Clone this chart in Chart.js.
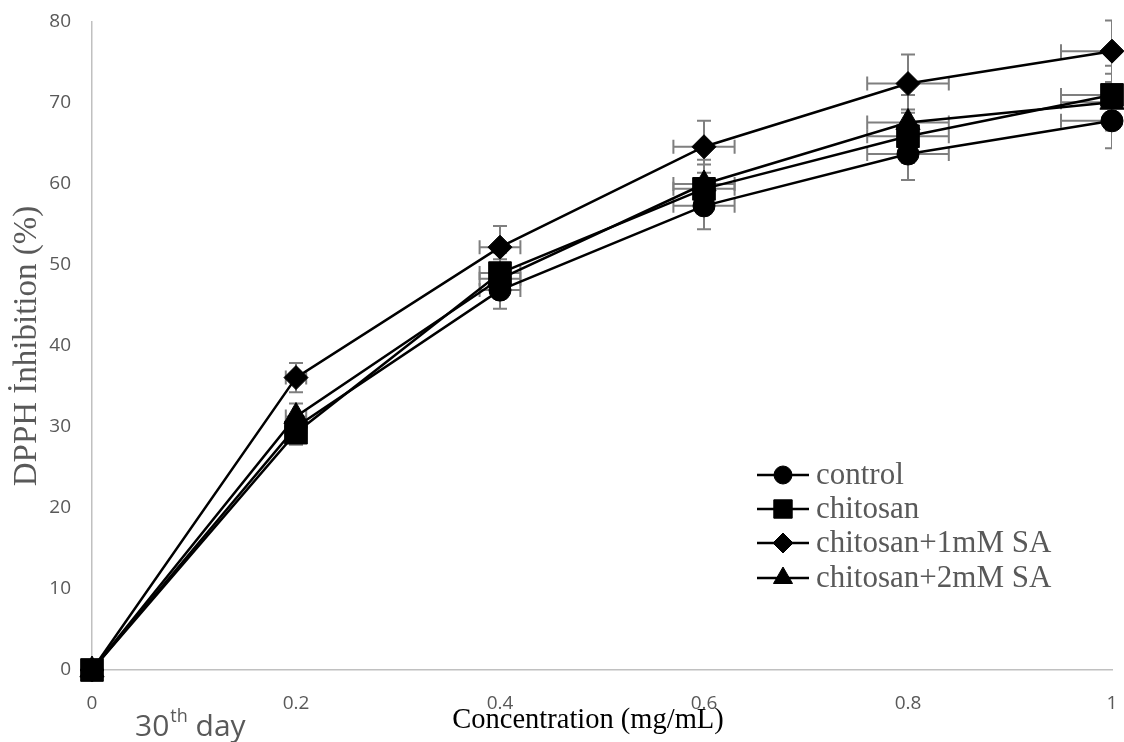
<!DOCTYPE html>
<html>
<head>
<meta charset="utf-8">
<script src="https://cdn.jsdelivr.net/npm/chart.js@4.4.1/dist/chart.umd.min.js"></script>
<style>
  html, body { margin: 0; padding: 0; background: #fff; overflow: hidden; }
  #cont { width: 1124px; height: 742px; position: relative; }
  #grafica { display: block; }
</style>
</head>
<body>
<div id="cont"><canvas id="grafica"></canvas></div>
<script>
// Datos
const concentraciones = [0, 0.2, 0.4, 0.6, 0.8, 1];
const control = [0, 30.0, 46.9, 57.3, 63.7, 67.8];
const chitosan = [0, 29.3, 49.0, 59.4, 65.9, 71.0];
const sa1mM = [0, 36.1, 52.2, 64.6, 72.4, 76.4];
const sa2mM = [0, 31.3, 48.3, 60.0, 67.6, 70.1];

const errControl = [0, 1.5, 2.3, 2.9, 3.2, 3.4];
const errChitosan = [0, 1.5, 2.5, 3.0, 3.3, 3.6];
const errSa1 = [0, 1.8, 2.6, 3.2, 3.6, 3.8];
const errSa2 = [0, 1.6, 2.4, 3.0, 3.4, 3.5];
const errX = [0, 0.01, 0.02, 0.03, 0.04, 0.05];

const etiquetasX = ['0', '0.2', '0.4', '0.6', '0.8', '1'];
const ticksY = [0, 10, 20, 30, 40, 50, 60, 70, 80];
const nombres = ['control', 'chitosan', 'chitosan+1mM SA', 'chitosan+2mM SA'];

const series = [control, chitosan, sa1mM, sa2mM];
const errores = [errControl, errChitosan, errSa1, errSa2];
const estilos = ['circle', 'rect', 'rectRot', 'triangle'];
const radios = [11, 16, 12, 14];
const radiosLeyenda = [9, 13, 10, 11];

const gris = '#595959';

// Barras de error (verticales y horizontales)
const barrasError = {
  id: 'barrasError',
  beforeDatasetsDraw(chart) {
    const ctx = chart.ctx;
    const sx = chart.scales.x;
    const sy = chart.scales.y;
    const a = chart.chartArea;
    const cap = 7;
    ctx.save();
    ctx.beginPath();
    ctx.rect(a.left, a.top - 4, a.right - a.left, a.bottom - a.top + 4);
    ctx.clip();
    ctx.strokeStyle = '#7f7f7f';
    ctx.lineWidth = 2;
    series.forEach((serie, i) => {
      serie.forEach((v, j) => {
        const cx = sx.getPixelForValue(concentraciones[j]);
        const cy = sy.getPixelForValue(v);
        const ey = errores[i][j];
        const ex = errX[j];
        ctx.beginPath();
        if (ey > 0) {
          const y1 = sy.getPixelForValue(v + ey);
          const y2 = sy.getPixelForValue(v - ey);
          ctx.moveTo(cx, y1); ctx.lineTo(cx, y2);
          ctx.moveTo(cx - cap, y1); ctx.lineTo(cx + cap, y1);
          ctx.moveTo(cx - cap, y2); ctx.lineTo(cx + cap, y2);
        }
        if (ex > 0) {
          const x1 = sx.getPixelForValue(concentraciones[j] - ex);
          const x2 = sx.getPixelForValue(concentraciones[j] + ex);
          ctx.moveTo(x1, cy); ctx.lineTo(x2, cy);
          ctx.moveTo(x1, cy - cap); ctx.lineTo(x1, cy + cap);
          ctx.moveTo(x2, cy - cap); ctx.lineTo(x2, cy + cap);
        }
        ctx.stroke();
      });
    });
    ctx.restore();
  }
};

// Leyenda y textos extra
const extras = {
  id: 'extras',
  afterDraw(chart) {
    const ctx = chart.ctx;
    ctx.save();

    // Leyenda dentro del area
    const filas = [475, 509, 543, 578];
    nombres.forEach((nombre, i) => {
      const y = filas[i];
      ctx.strokeStyle = '#000';
      ctx.lineWidth = 2.5;
      ctx.beginPath();
      ctx.moveTo(757, y);
      ctx.lineTo(809, y);
      ctx.stroke();
      ctx.fillStyle = '#000';
      ctx.lineWidth = 1;
      Chart.helpers.drawPoint(ctx, { pointStyle: estilos[i], radius: radiosLeyenda[i], rotation: 0, borderWidth: 1 }, 783, y);
      ctx.fillStyle = gris;
      ctx.font = '31px "Liberation Serif"';
      ctx.textBaseline = 'middle';
      ctx.textAlign = 'left';
      ctx.fillText(nombre, 816, y + 1);
    });

    // Titulo del eje x
    ctx.fillStyle = '#000';
    ctx.font = '28.5px "Liberation Serif"';
    ctx.textAlign = 'center';
    ctx.textBaseline = 'middle';
    ctx.fillText('Concentration (mg/mL)', 588, 721);

    // Texto "30th day"
    ctx.fillStyle = gris;
    ctx.textAlign = 'left';
    ctx.textBaseline = 'alphabetic';
    ctx.font = '30px "Open Sans"';
    let x = 135;
    ctx.fillText('30', x, 736);
    x += ctx.measureText('30').width + 1;
    ctx.font = '18px "Open Sans"';
    ctx.fillText('th', x, 722);
    x += ctx.measureText('th').width;
    ctx.font = '30px "Open Sans"';
    ctx.fillText(' day', x, 736);

    ctx.restore();
  }
};

const datasets = series.map((serie, i) => ({
  label: nombres[i],
  data: serie.map((v, j) => ({ x: concentraciones[j], y: v })),
  showLine: true,
  borderColor: '#000',
  backgroundColor: '#000',
  borderWidth: 2.5,
  pointStyle: estilos[i],
  pointRadius: radios[i],
  pointBackgroundColor: '#000',
  pointBorderColor: '#000',
  pointBorderWidth: 1,
  tension: 0,
  clip: false,
  order: 4 - i
}));

const ctx = document.getElementById('grafica').getContext('2d');
new Chart(ctx, {
  type: 'scatter',
  data: { datasets: datasets },
  options: {
    responsive: true,
    maintainAspectRatio: false,
    animation: false,
    layout: { autoPadding: false, padding: { top: 22, right: 12, left: 0, bottom: 0 } },
    plugins: {
      legend: { display: false },
      tooltip: { enabled: false }
    },
    scales: {
      x: {
        type: 'linear',
        min: 0,
        max: 1,
        afterBuildTicks: s => { s.ticks = concentraciones.map(v => ({ value: v })); },
        afterFit: s => {
          s.height = 72;
          s.paddingLeft = 0;
          s.paddingRight = 0;
        },
        ticks: {
          callback: (v, i) => etiquetasX[i],
          color: gris,
          font: { family: 'Open Sans', size: 19 },
          padding: 22,
          maxRotation: 0
        },
        grid: { display: false, drawTicks: false },
        border: { display: true, color: '#c0c0c0', width: 1.5 }
      },
      y: {
        type: 'linear',
        min: 0,
        max: 80,
        afterBuildTicks: s => { s.ticks = ticksY.map(v => ({ value: v })); },
        afterFit: s => {
          s.width = 92;
          s.paddingTop = 0;
          s.paddingBottom = 0;
        },
        ticks: {
          color: gris,
          font: { family: 'Open Sans', size: 19 },
          padding: 21
        },
        grid: { display: false, drawTicks: false },
        border: { display: true, color: '#c0c0c0', width: 1.5 },
        title: {
          display: true,
          text: 'DPPH İnhibition (%)',
          color: gris,
          font: { family: 'Liberation Serif', size: 33 },
          padding: { top: 8 }
        }
      }
    }
  },
  plugins: [barrasError, extras]
});
</script>
</body>
</html>
